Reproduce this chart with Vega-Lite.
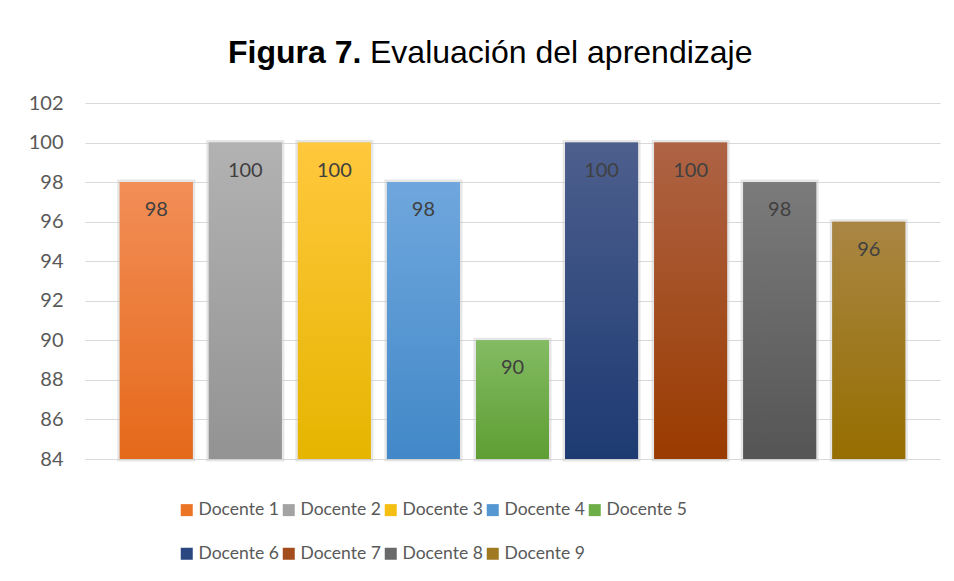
{
  "$schema": "https://vega.github.io/schema/vega-lite/v6.json",
  "width": 855,
  "height": 356,
  "autosize": {"type": "none"},
  "padding": {"left": 85, "top": 103, "right": 14, "bottom": 122},
  "background": "white",
  "title": {
    "text": "Figura 7.",
    "subtitle": "Evaluación del aprendizaje",
    "anchor": "start",
    "frame": "group",
    "dx": 285,
    "encoding": {"dx": {"value": 143}},
    "font": "Liberation Sans",
    "fontSize": 32,
    "fontWeight": "bold",
    "color": "#000000",
    "subtitleFont": "Liberation Sans",
    "subtitleFontSize": 32,
    "subtitleFontWeight": "normal",
    "subtitleColor": "#000000",
    "subtitlePadding": -32,
    "offset": 23
  },
  "data": {
    "values": [
      {"docente": "Docente 1", "valor": 98},
      {"docente": "Docente 2", "valor": 100},
      {"docente": "Docente 3", "valor": 100},
      {"docente": "Docente 4", "valor": 98},
      {"docente": "Docente 5", "valor": 90},
      {"docente": "Docente 6", "valor": 100},
      {"docente": "Docente 7", "valor": 100},
      {"docente": "Docente 8", "valor": 98},
      {"docente": "Docente 9", "valor": 96}
    ]
  },
  "encoding": {
    "x": {
      "field": "docente",
      "type": "nominal",
      "sort": null,
      "axis": null,
      "scale": {"paddingInner": 0.18, "paddingOuter": 0.39}
    },
    "y": {
      "field": "valor",
      "type": "quantitative",
      "scale": {"domain": [84, 102], "zero": false, "nice": false},
      "axis": {
        "title": null,
        "values": [84, 86, 88, 90, 92, 94, 96, 98, 100, 102],
        "domain": false,
        "ticks": false,
        "labelPadding": 22,
        "labelFont": "Lato",
        "labelFontSize": 20,
        "labelColor": "#595959",
        "gridColor": "#D9D9D9",
        "gridWidth": 1
      }
    }
  },
  "layer": [
    {
      "mark": {"type": "bar", "stroke": "#C8C8C8", "strokeOpacity": 0.45, "strokeWidth": 5},
      "encoding": {
        "y2": {"datum": 84},
        "color": {
          "field": "docente",
          "type": "nominal",
          "sort": null,
          "scale": {
            "range": ["#EC7425", "#A3A3A3", "#F5BE12", "#5497D3", "#6EAE47", "#2A4780", "#A34C1C", "#696969", "#9F7A22"]
          },
          "legend": {
            "title": null,
            "orient": "none",
            "legendX": 93,
            "legendY": 398,
            "padding": 0,
            "direction": "horizontal",
            "columns": 5,
            "symbolType": "square",
            "symbolSize": 144,
            "symbolStrokeWidth": 0,
            "labelFont": "Lato",
            "labelFontSize": 17.5,
            "labelColor": "#595959",
            "labelOffset": 3,
            "columnPadding": 1,
            "rowPadding": 25,
            "labelLimit": 200
          }
        }
      }
    },
    {
      "mark": {
        "type": "bar",
        "fill": {"expr": "{gradient: 'linear', x1: 0, y1: 0, x2: 0, y2: 1, stops: [{offset: 0, color: {'Docente 1': '#F28E57', 'Docente 2': '#B2B2B2', 'Docente 3': '#FFC83D', 'Docente 4': '#6FA7DD', 'Docente 5': '#83BB63', 'Docente 6': '#4D5F8D', 'Docente 7': '#AE6345', 'Docente 8': '#7B7B7B', 'Docente 9': '#A98644'}[datum.docente]}, {offset: 1, color: {'Docente 1': '#E5691A', 'Docente 2': '#939393', 'Docente 3': '#E5B500', 'Docente 4': '#4288C8', 'Docente 5': '#5E9E33', 'Docente 6': '#1D3A72', 'Docente 7': '#9A3B00', 'Docente 8': '#555555', 'Docente 9': '#966E00'}[datum.docente]}]}"}
      },
      "encoding": {
        "y2": {"datum": 84}
      }
    },
    {
      "mark": {"type": "text", "dy": 28, "baseline": "middle", "font": "Lato", "fontSize": 20, "color": "#404040"},
      "encoding": {
        "text": {"field": "valor", "type": "quantitative"}
      }
    }
  ],
  "config": {
    "view": {"stroke": null}
  }
}
